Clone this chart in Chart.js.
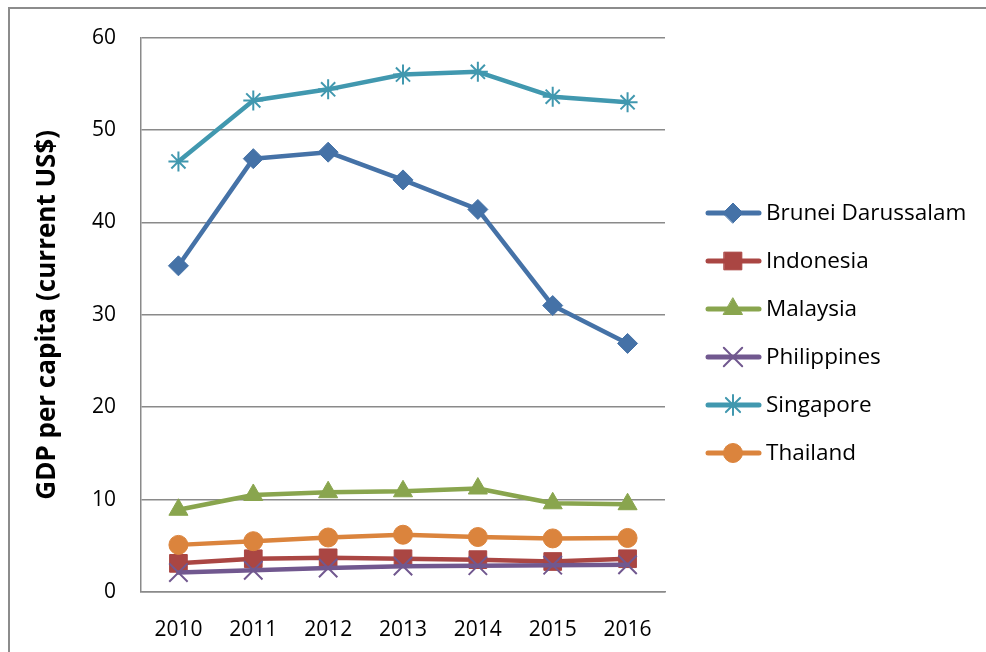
<!DOCTYPE html>
<html>
<head>
<meta charset="utf-8">
<script src="https://cdn.jsdelivr.net/npm/chart.js@4"></script>
<style>
    html, body { margin: 0; padding: 0; background: #fff; }
    #wrap { position: relative; width: 986px; height: 652px; overflow: hidden; }
    #frame { position: absolute; left: 8px; top: 7px; width: 1000px; height: 700px;
             border-top: 2px solid #8c8c8c; border-left: 2px solid #8c8c8c; }
    #chart { position: absolute; left: 0; top: 0; }
</style>
</head>
<body>
<div id="wrap">
    <div id="frame"></div>
    <canvas id="chart" width="986" height="652"></canvas>
</div>
<script>
const years = ["2010", "2011", "2012", "2013", "2014", "2015", "2016"];
const brunei = [35.3, 46.9, 47.6, 44.6, 41.4, 31.0, 26.9];
const indonesia = [3.1, 3.6, 3.7, 3.6, 3.5, 3.3, 3.6];
const malaysia = [8.9, 10.5, 10.8, 10.9, 11.2, 9.6, 9.5];
const philippines = [2.1, 2.35, 2.6, 2.8, 2.85, 2.9, 2.95];
const singapore = [46.6, 53.2, 54.4, 56.0, 56.3, 53.6, 53.0];
const thailand = [5.1, 5.5, 5.9, 6.2, 5.95, 5.8, 5.85];

Chart.defaults.font.family = "'Open Sans', sans-serif";
Chart.defaults.color = "#000";

function series(label, data, color, style, radius, bw, idx) {
    return {
        label: label,
        data: data,
        borderColor: color,
        backgroundColor: color,
        borderWidth: 4.5,
        borderCapStyle: "round",
        borderJoinStyle: "round",
        pointStyle: style,
        pointRadius: radius,
        pointBorderWidth: bw,
        pointBackgroundColor: color,
        pointBorderColor: color,
        order: 6 - idx
    };
}

// legend drawn by hand: line with marker on it, like the spreadsheet one
const sideLegend = {
    id: "sideLegend",
    afterDraw(chart) {
        const ctx = chart.ctx;
        chart.data.datasets.forEach(function(ds, i) {
            const y = 213 + i * 48;
            ctx.save();
            ctx.strokeStyle = ds.borderColor;
            ctx.fillStyle = ds.borderColor;
            ctx.lineWidth = 5;
            ctx.lineCap = "round";
            ctx.beginPath();
            ctx.moveTo(708, y);
            ctx.lineTo(759, y);
            ctx.stroke();
            ctx.lineWidth = ds.pointBorderWidth;
            Chart.helpers.drawPoint(ctx, {
                pointStyle: ds.pointStyle,
                radius: ds.pointRadius,
                borderWidth: ds.pointBorderWidth,
                rotation: 0
            }, 733, y);
            ctx.fillStyle = "#000";
            ctx.font = "22.5px 'Open Sans', sans-serif";
            ctx.textBaseline = "middle";
            ctx.textAlign = "left";
            ctx.fillText(ds.label, 766, y + 1);
            ctx.restore();
        });
    }
};

new Chart(document.getElementById("chart").getContext("2d"), {
    type: "line",
    data: {
        labels: years,
        datasets: [
            series("Brunei Darussalam", brunei, "#4572A7", "rectRot", 10, 1, 0),
            series("Indonesia", indonesia, "#AA4643", "rect", 12.5, 1, 1),
            series("Malaysia", malaysia, "#89A54E", "triangle", 11, 1, 2),
            series("Philippines", philippines, "#71588F", "crossRot", 13, 2, 3),
            series("Singapore", singapore, "#4198AF", "star", 10, 2, 4),
            series("Thailand", thailand, "#DB843D", "circle", 9.5, 1, 5)
        ]
    },
    options: {
        responsive: false,
        animation: false,
        layout: { padding: { left: 20, top: 36, right: 321, bottom: 0 } },
        plugins: {
            legend: { display: false },
            tooltip: { enabled: false }
        },
        scales: {
            x: {
                offset: true,
                grid: { display: false, drawTicks: false },
                border: { display: true, color: "#8a8a8a", width: 1.5 },
                ticks: { font: { size: 21 }, padding: 25, maxRotation: 0 },
                afterFit: function(scale) { scale.height = 60; }
            },
            y: {
                min: 0,
                max: 60,
                ticks: { stepSize: 10, font: { size: 21 }, padding: 25 },
                grid: { color: "#8a8a8a", lineWidth: 1.5, drawTicks: false },
                border: { display: true, color: "#8a8a8a", width: 1.5 },
                title: {
                    display: true,
                    text: "GDP per capita (current US$)",
                    font: { size: 26, weight: "bold" },
                    padding: { top: 12, bottom: 0 }
                },
                afterFit: function(scale) { scale.width = 121; }
            }
        }
    },
    plugins: [sideLegend]
});
</script>
</body>
</html>
